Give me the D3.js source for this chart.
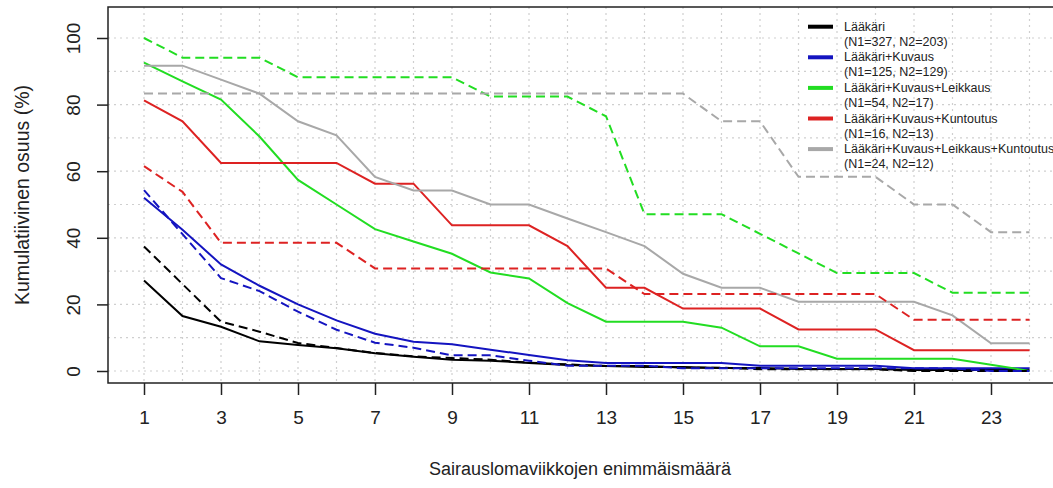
<!DOCTYPE html>
<html><head><meta charset="utf-8">
<script src="https://cdn.jsdelivr.net/npm/d3@7"></script>
<style>body{margin:0;background:#fff}svg{display:block}</style>
</head><body><svg id="c" width="1053" height="488"></svg>
<script>
const weeks = d3.range(1, 25);
const xTicks = [1,3,5,7,9,11,13,15,17,19,21,23];
const yTicks = [0,20,40,60,80,100];
const seriesNames = ["Lääkäri","Lääkäri+Kuvaus","Lääkäri+Kuvaus+Leikkaus","Lääkäri+Kuvaus+Kuntoutus","Lääkäri+Kuvaus+Leikkaus+Kuntoutus"];
const seriesN = ["(N1=327, N2=203)","(N1=125, N2=129)","(N1=54, N2=17)","(N1=16, N2=13)","(N1=24, N2=12)"];
const seriesColors = ["#000000","#1414c0","#22dd22","#dd2222","#a8a8a8"];
// solid = N1 group, dashed = N2 group
const laakari1 = [27.2,16.5,13.3,8.9,7.8,6.8,5.3,4.3,3.4,3.1,2.4,1.8,1.5,1.2,1.2,0.9,0.9,0.6,0.6,0.6,0.3,0.3,0.3,0.3];
const laakari2 = [37.4,26.1,14.8,11.8,8.4,6.9,5.4,4.4,3.9,3.4,2.5,2.0,1.5,1.5,1.0,1.0,0.5,0.5,0.5,0.5,0,0,0,0];
const kuvaus1 = [52.0,42.4,32.0,25.6,20.0,15.2,11.2,8.8,8.0,6.4,4.8,3.2,2.4,2.4,2.4,2.4,1.6,1.6,1.6,1.6,0.8,0.8,0.8,0.8];
const kuvaus2 = [54.3,41.1,27.9,24.0,17.8,12.4,8.5,7.0,4.7,4.7,3.1,1.6,1.6,1.6,0.8,0.8,0.8,0.8,0.8,0.8,0.8,0.8,0,0];
const leikkaus1 = [92.6,87.0,81.5,70.4,57.4,50.0,42.6,38.9,35.2,29.6,27.8,20.4,14.8,14.8,14.8,13.0,7.4,7.4,3.7,3.7,3.7,3.7,1.9,0];
const leikkaus2 = [100,94.1,94.1,94.1,88.2,88.2,88.2,88.2,88.2,82.4,82.4,82.4,76.5,47.1,47.1,47.1,41.2,35.3,29.4,29.4,29.4,23.5,23.5,23.5];
const kuntoutus1 = [81.25,75,62.5,62.5,62.5,62.5,56.25,56.25,43.75,43.75,43.75,37.5,25,25,18.75,18.75,18.75,12.5,12.5,12.5,6.25,6.25,6.25,6.25];
const kuntoutus2 = [61.5,53.8,38.5,38.5,38.5,38.5,30.8,30.8,30.8,30.8,30.8,30.8,30.8,23.1,23.1,23.1,23.1,23.1,23.1,23.1,15.4,15.4,15.4,15.4];
const kaikki1 = [91.7,91.7,87.5,83.3,75,70.8,58.3,54.2,54.2,50,50,45.8,41.7,37.5,29.2,25,25,20.8,20.8,20.8,20.8,16.7,8.3,8.3];
const kaikki2 = [83.3,83.3,83.3,83.3,83.3,83.3,83.3,83.3,83.3,83.3,83.3,83.3,83.3,83.3,83.3,75,75,58.3,58.3,58.3,50,50,41.7,41.7];

const solid = [laakari1,kuvaus1,leikkaus1,kuntoutus1,kaikki1];
const dashed = [laakari2,kuvaus2,leikkaus2,kuntoutus2,kaikki2];

const svg = d3.select("#c");
const x = d3.scaleLinear().domain([1,24]).range([144,1029.5]);
const y = d3.scaleLinear().domain([0,100]).range([371,38]);
const box = {l:108,t:7,b:383,r:1065};
const font = "'Liberation Sans', Arial, sans-serif";

// grid
const g = svg.append("g");
g.selectAll("line.vg").data(weeks).join("line")
  .attr("x1",d=>x(d)).attr("x2",d=>x(d)).attr("y1",box.t).attr("y2",box.b)
  .attr("stroke","#cfcfcf").attr("stroke-width",1.2).attr("stroke-dasharray","2,4");
g.selectAll("line.hg").data(d3.range(0,101,10)).join("line")
  .attr("y1",d=>y(d)).attr("y2",d=>y(d)).attr("x1",box.l).attr("x2",box.r)
  .attr("stroke","#cfcfcf").attr("stroke-width",1.2).attr("stroke-dasharray","2,4");

// lines
const line = d3.line().x((d,i)=>x(weeks[i])).y(d=>y(d));
const order = [0,1,2,3,4];
order.forEach(i=>{
  svg.append("path").datum(solid[i]).attr("d",line).attr("fill","none")
    .attr("stroke",seriesColors[i]).attr("stroke-width",2);
});
order.forEach(i=>{
  svg.append("path").datum(dashed[i]).attr("d",line).attr("fill","none")
    .attr("stroke",seriesColors[i]).attr("stroke-width",2).attr("stroke-dasharray","9,5");
});

// box
svg.append("rect").attr("x",box.l).attr("y",box.t).attr("width",box.r-box.l).attr("height",box.b-box.t)
  .attr("fill","none").attr("stroke","#222").attr("stroke-width",1.5);

// x axis
const xa = svg.append("g").attr("transform",`translate(0,${box.b})`)
  .call(d3.axisBottom(x).tickValues(xTicks).tickSize(12).tickPadding(16).tickFormat(d3.format("d")));
xa.select(".domain").remove();
xa.selectAll("line").attr("stroke","#222").attr("stroke-width",1.5);
xa.selectAll("text").attr("font-family",font).attr("font-size",19).attr("fill","#222");

// y axis
const ya = svg.append("g").attr("transform",`translate(${box.l},0)`)
  .call(d3.axisLeft(y).tickValues(yTicks).tickSize(11).tickPadding(0).tickFormat(d3.format("d")));
ya.select(".domain").remove();
ya.selectAll("line").attr("stroke","#222").attr("stroke-width",1.5);
ya.selectAll("text").attr("font-family",font).attr("font-size",19).attr("fill","#222")
  .attr("x",0).attr("y",0).attr("dy",0).attr("text-anchor","middle")
  .attr("transform","translate(-33,0) rotate(-90)")
  .attr("dominant-baseline","middle");

// titles
svg.append("text").attr("x",580).attr("y",475).attr("text-anchor","middle")
  .attr("font-family",font).attr("font-size",18).attr("fill","#222").text("Sairauslomaviikkojen enimmäismäärä");
svg.append("text").attr("transform","translate(29,195) rotate(-90)").attr("text-anchor","middle")
  .attr("font-family",font).attr("font-size",19.5).attr("fill","#222").text("Kumulatiivinen osuus (%)");

// legend
const leg = svg.append("g");
seriesNames.forEach((n,i)=>{
  const yy = 26.7 + i*30.6;
  leg.append("line").attr("x1",808).attr("x2",833).attr("y1",yy).attr("y2",yy)
    .attr("stroke",seriesColors[i]).attr("stroke-width",4);
  leg.append("text").attr("x",844).attr("y",yy+4).attr("font-family",font).attr("font-size",12.5).attr("fill","#222").text(n);
  leg.append("text").attr("x",844).attr("y",yy+19).attr("font-family",font).attr("font-size",12.5).attr("fill","#222").text(seriesN[i]);
});
</script></body></html>
